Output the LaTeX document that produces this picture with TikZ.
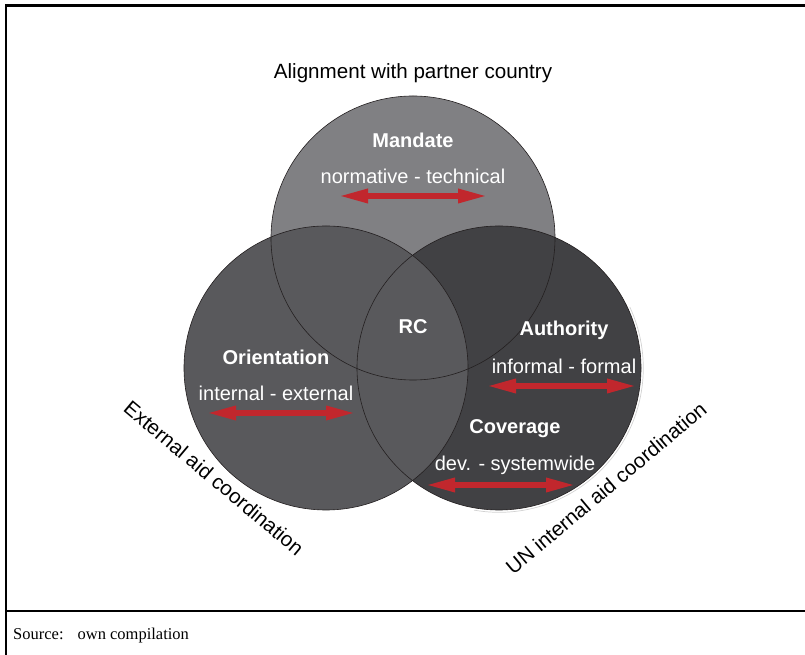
\documentclass[tikz,border=0pt]{standalone}
\usepackage{fontspec}
\setmainfont{Liberation Serif}
\setsansfont{Liberation Sans}
\usetikzlibrary{arrows.meta}

\definecolor{topgray}{RGB}{128,128,131}
\definecolor{leftgray}{RGB}{89,89,92}
\definecolor{rightgray}{RGB}{65,65,68}
\definecolor{rangered}{RGB}{193,39,45}
\definecolor{rimgray}{RGB}{35,31,32}

\begin{document}
\begin{tikzpicture}[x=1pt,y=1pt,
  circ/.style={draw=rimgray,line width=0.6pt},
  head/.style={text=white,font=\sffamily\bfseries\fontsize{20}{24}\selectfont},
  rangetext/.style={text=white,font=\sffamily\fontsize{20}{24}\selectfont},
  caption/.style={font=\sffamily\fontsize{20.6}{24}\selectfont},
  rangearrow/.style={draw=rangered,line width=6pt,{Triangle[length=30pt,width=13pt]}-{Triangle[length=30pt,width=13pt]}}]
  \useasboundingbox (0,0) rectangle (805,655);

  \coordinate (MandateC) at (413,417);
  \coordinate (OrientC) at (326,287);
  \coordinate (AuthC) at (499,287);

  \fill[topgray] (MandateC) circle (142);
  \draw[gray!35,line width=0.7pt] ([shift={(-100:144.3)}]AuthC) arc[start angle=-100,end angle=25,radius=144.3];
  \fill[rightgray] (AuthC) circle (142);
  \fill[leftgray] (OrientC) circle (142);
  \foreach \c in {MandateC,OrientC,AuthC}
    \draw[circ] (\c) circle (142);

  \node (Alignment) [caption] at (413,582) {Alignment with partner country};
  \node (External) [caption,rotate=-40] at (214,177) {External aid coordination};
  \node (Internal) [caption,rotate=40] at (606,167) {UN internal aid coordination};

  \node (Mandate) [head] at (413,515) {Mandate};
  \node (MandateRange) [rangetext,node distance=36pt,below of=Mandate] {normative - technical};
  \node (RC) [head] at (413,328) {RC};
  \node (Orientation) [head] at (276,298) {Orientation};
  \node (OrientRange) [rangetext,node distance=36pt,below of=Orientation] {internal - external};
  \node (Authority) [head] at (564,325) {Authority};
  \node (AuthRange) [rangetext,node distance=36pt,below of=Authority] {informal - formal};
  \node (Coverage) [head] at (515,226) {Coverage};
  \node (CoverRange) [rangetext,node distance=36pt,below of=Coverage] {dev. - systemwide};

  \coordinate (MandateL) at (338,459);
  \coordinate (MandateR) at (488,459);
  \coordinate (OrientL) at (206,242);
  \coordinate (OrientR) at (356,242);
  \coordinate (AuthL) at (486,269);
  \coordinate (AuthR) at (637,269);
  \coordinate (CoverL) at (425,170);
  \coordinate (CoverR) at (576,170);
  \draw[rangearrow] (MandateL) -- (MandateR);
  \draw[rangearrow] (OrientL) -- (OrientR);
  \draw[rangearrow] (AuthL) -- (AuthR);
  \draw[rangearrow] (CoverL) -- (CoverR);

  % frame and source line
  \draw[line width=2.5pt] (6,0) -- (6,649.5) -- (805,649.5);
  \draw[line width=2.5pt] (6,44) -- (805,44);
  \node (Source) [anchor=base west,inner sep=0pt,font=\fontsize{16.5}{20}\selectfont] at (13,15) {Source:\hspace{14pt}own compilation};
\end{tikzpicture}
\end{document}
